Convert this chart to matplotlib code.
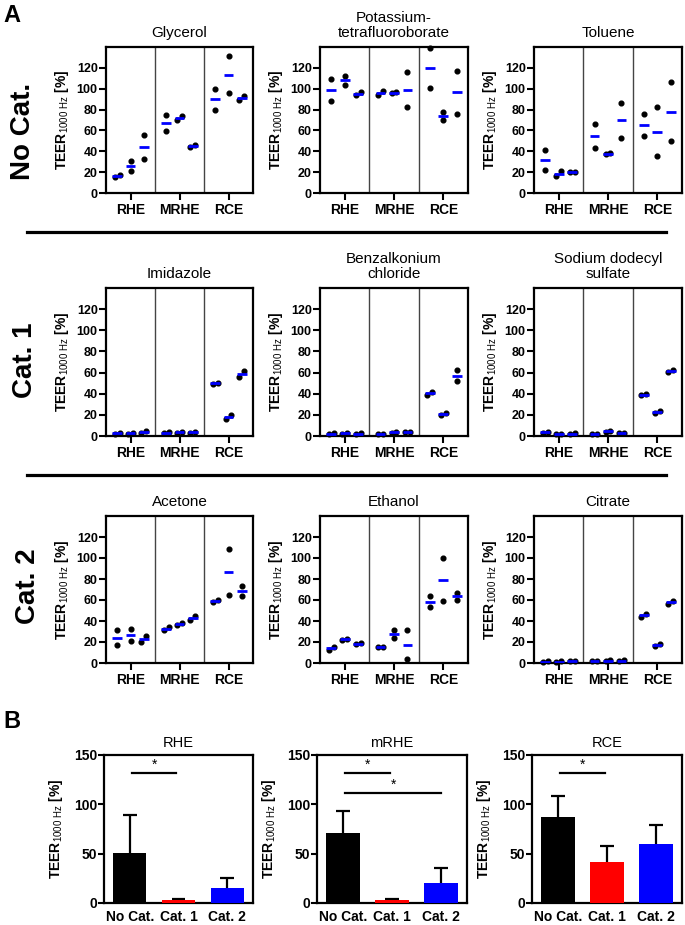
import matplotlib
matplotlib.use('Agg')
import matplotlib.pyplot as plt
from matplotlib.lines import Line2D
import numpy as np

plt.rcParams['font.family'] = ['Liberation Sans', 'DejaVu Sans']
plt.rcParams['mathtext.fontset'] = 'custom'
plt.rcParams['mathtext.rm'] = 'Liberation Sans'
plt.rcParams['mathtext.bf'] = 'Liberation Sans:bold'
plt.rcParams['mathtext.it'] = 'Liberation Sans:italic'

# ---------------- data ----------------
models = ['RHE', 'MRHE', 'RCE']
row_labels = ['No Cat.', 'Cat. 1', 'Cat. 2']
titles = [['Glycerol', 'Potassium-\ntetrafluoroborate', 'Toluene'],
          ['Imidazole', 'Benzalkonium\nchloride', 'Sodium dodecyl\nsulfate'],
          ['Acetone', 'Ethanol', 'Citrate']]

# 9 sub-series per compound (3 per barrier model), duplicate measurements each
glycerol = [[15, 17], [31, 21], [56, 33], [74.5, 59.5], [73.5, 70], [44, 46], [99.5, 80], [131, 95.5], [89.5, 93]]
potassium = [[109, 88.5], [112.5, 104], [93.5, 97], [94, 98], [95.5, 96.5], [116, 82], [139, 101], [78, 70], [117, 76]]
toluene = [[41.5, 22.5], [16, 21], [20, 20.5], [66.5, 43], [37.5, 38], [86.5, 53], [76, 54.5], [82.5, 35], [106, 50]]
imidazole = [[2, 3], [2, 3], [3, 4.5], [3, 3.5], [3, 4], [3, 4], [49, 50.5], [16, 19.5], [55.5, 61.5]]
benzalkonium = [[2, 2.5], [2, 3], [2, 2.5], [1.5, 2], [3, 4], [3.5, 4], [39, 41.5], [19.5, 21.5], [62, 52]]
sds = [[3, 4], [1.5, 2], [1.5, 2.5], [2, 2], [4, 5], [2.5, 3], [39, 39.5], [22, 24], [60.5, 62.5]]
acetone = [[31, 17.5], [32, 21], [20, 26], [31.5, 34], [36, 38.5], [40.5, 45], [58, 60], [109, 65], [73.5, 64]]
ethanol = [[12.5, 15.5], [22, 23], [18, 19], [15.5, 15.5], [31, 23.5], [31, 4], [64, 53], [100, 59], [67, 60]]
citrate = [[1, 1.5], [1, 1.5], [1.5, 2], [1.5, 2], [2, 2.5], [2, 2.5], [44, 47], [16.5, 18.5], [56, 59.5]]
compounds = [[glycerol, potassium, toluene],
             [imidazole, benzalkonium, sds],
             [acetone, ethanol, citrate]]

bar_models = ['RHE', 'mRHE', 'RCE']
bar_categories = ['No Cat.', 'Cat. 1', 'Cat. 2']
bar_colors = ['#000000', '#ff0000', '#0000ff']
bar_means = [[51, 2.8, 15.3], [70.6, 3, 20.7], [87.5, 41.4, 60]]
bar_sd = [[37.8, 0.9, 9.8], [22.4, 1, 14.9], [20.5, 16.6, 19.4]]
# significance brackets: (from category, to category)
sig_pairs = [[(0, 1)], [(0, 1), (0, 2)], [(0, 1)]]

# ---------------- figure ----------------
W, H = 685, 925
fig = plt.figure(figsize=(W / 100, H / 100), dpi=100)


def rect(left, top, right, bottom):
    return [left / W, 1 - bottom / H, (right - left) / W, (bottom - top) / H]


ylabel = r'$\mathbf{TEER}_{\mathrm{1000\ Hz}}\ \mathbf{[\%]}$'
col_lr = [(106, 253), (320, 468), (534, 682)]
row_tb = [(47, 193), (288, 436), (516, 663)]
sub_pos = [0.68, 1.5, 2.32]

for r in range(3):
    for c in range(3):
        ax = fig.add_axes(rect(col_lr[c][0], row_tb[r][0], col_lr[c][1], row_tb[r][1]))
        data = compounds[r][c]
        for i, pair in enumerate(data):
            g, s = divmod(i, 3)
            xc = g * 3 + sub_pos[s]
            vals = sorted(pair)
            if abs(vals[1] - vals[0]) < 6.5:
                xs = [xc - 0.15, xc + 0.15]
            else:
                xs = [xc, xc]
            ax.plot(xs, vals, 'o', color='black', ms=3.4, zorder=3, clip_on=False)
            m = np.mean(pair)
            ax.plot([xc - 0.3, xc + 0.3], [m, m], color='#0000ff', lw=2.0,
                    solid_capstyle='butt', zorder=4)
        for xd in (3, 6):
            ax.axvline(xd, color='#444444', lw=1.0, zorder=1)
        ax.set_xlim(0, 9)
        ax.set_ylim(0, 140)
        ax.set_yticks(np.arange(0, 121, 20))
        ax.set_xticks([1.5, 4.5, 7.5])
        ax.set_xticklabels(models, fontsize=10, fontweight='bold')
        for lab in ax.get_yticklabels():
            lab.set_fontweight('bold')
            lab.set_fontsize(9)
        ax.tick_params(axis='both', direction='out', length=5, width=1.5)
        ax.tick_params(axis='y', pad=1)
        ax.tick_params(axis='x', pad=2)
        for sp in ax.spines.values():
            sp.set_linewidth(1.6)
        ax.set_ylabel(ylabel, fontsize=10, labelpad=4)
        ax.set_title(titles[r][c], fontsize=11, pad=7, linespacing=1.15)

# row labels
for lab, yc, xc in zip(row_labels, [131, 360, 586], [23, 25, 28]):
    fig.text(xc / W, 1 - yc / H, lab, rotation=90, fontsize=20, fontweight='bold',
             ha='center', va='center')

# separators
for ys in (232, 475):
    fig.add_artist(Line2D([27 / W, 666 / W], [1 - ys / H, 1 - ys / H],
                          color='black', lw=2.3, transform=fig.transFigure))

fig.text(3 / W, 1 - 15 / H, 'A', fontsize=17, fontweight='bold', ha='left', va='center')
fig.text(3 / W, 1 - 721 / H, 'B', fontsize=17, fontweight='bold', ha='left', va='center')

# ---------------- panel B ----------------
bcol_lr = [(104, 253), (317, 467), (532, 682)]
for k in range(3):
    ax = fig.add_axes(rect(bcol_lr[k][0], 755, bcol_lr[k][1], 903))
    x = np.arange(3)
    means = np.array(bar_means[k])
    tops = means + np.array(bar_sd[k])
    ax.bar(x, means, width=0.68, color=bar_colors, zorder=3)
    ax.vlines(x, means, tops, colors='black', lw=1.6, zorder=2)
    ax.hlines(tops, x - 0.14, x + 0.14, colors='black', lw=1.6, zorder=2)
    lvl = [131.7, 111.3]
    for j, (a, b) in enumerate(sig_pairs[k]):
        y = lvl[j]
        x0 = a + 0.05
        x1 = b - 0.05 if b == 1 else b
        ax.plot([x0, x1], [y, y], color='black', lw=1.6, zorder=4)
        ax.text((x0 + x1) / 2, y + 1, '*', ha='center', va='bottom', fontsize=10)
    ax.set_xlim(-0.53, 2.53)
    ax.set_ylim(0, 150)
    ax.set_yticks([0, 50, 100, 150])
    ax.set_xticks(x)
    ax.set_xticklabels(bar_categories, fontsize=10, fontweight='bold')
    for lab in ax.get_yticklabels():
        lab.set_fontweight('bold')
        lab.set_fontsize(10)
    ax.tick_params(axis='y', direction='out', length=4, width=1.5, pad=1)
    ax.tick_params(axis='x', length=0, pad=5)
    for sp in ax.spines.values():
        sp.set_linewidth(1.6)
    ax.set_ylabel(ylabel, fontsize=10, labelpad=6)
    ax.set_title(bar_models[k], fontsize=10.5, pad=6)

fig.savefig('out.png', dpi=100)
